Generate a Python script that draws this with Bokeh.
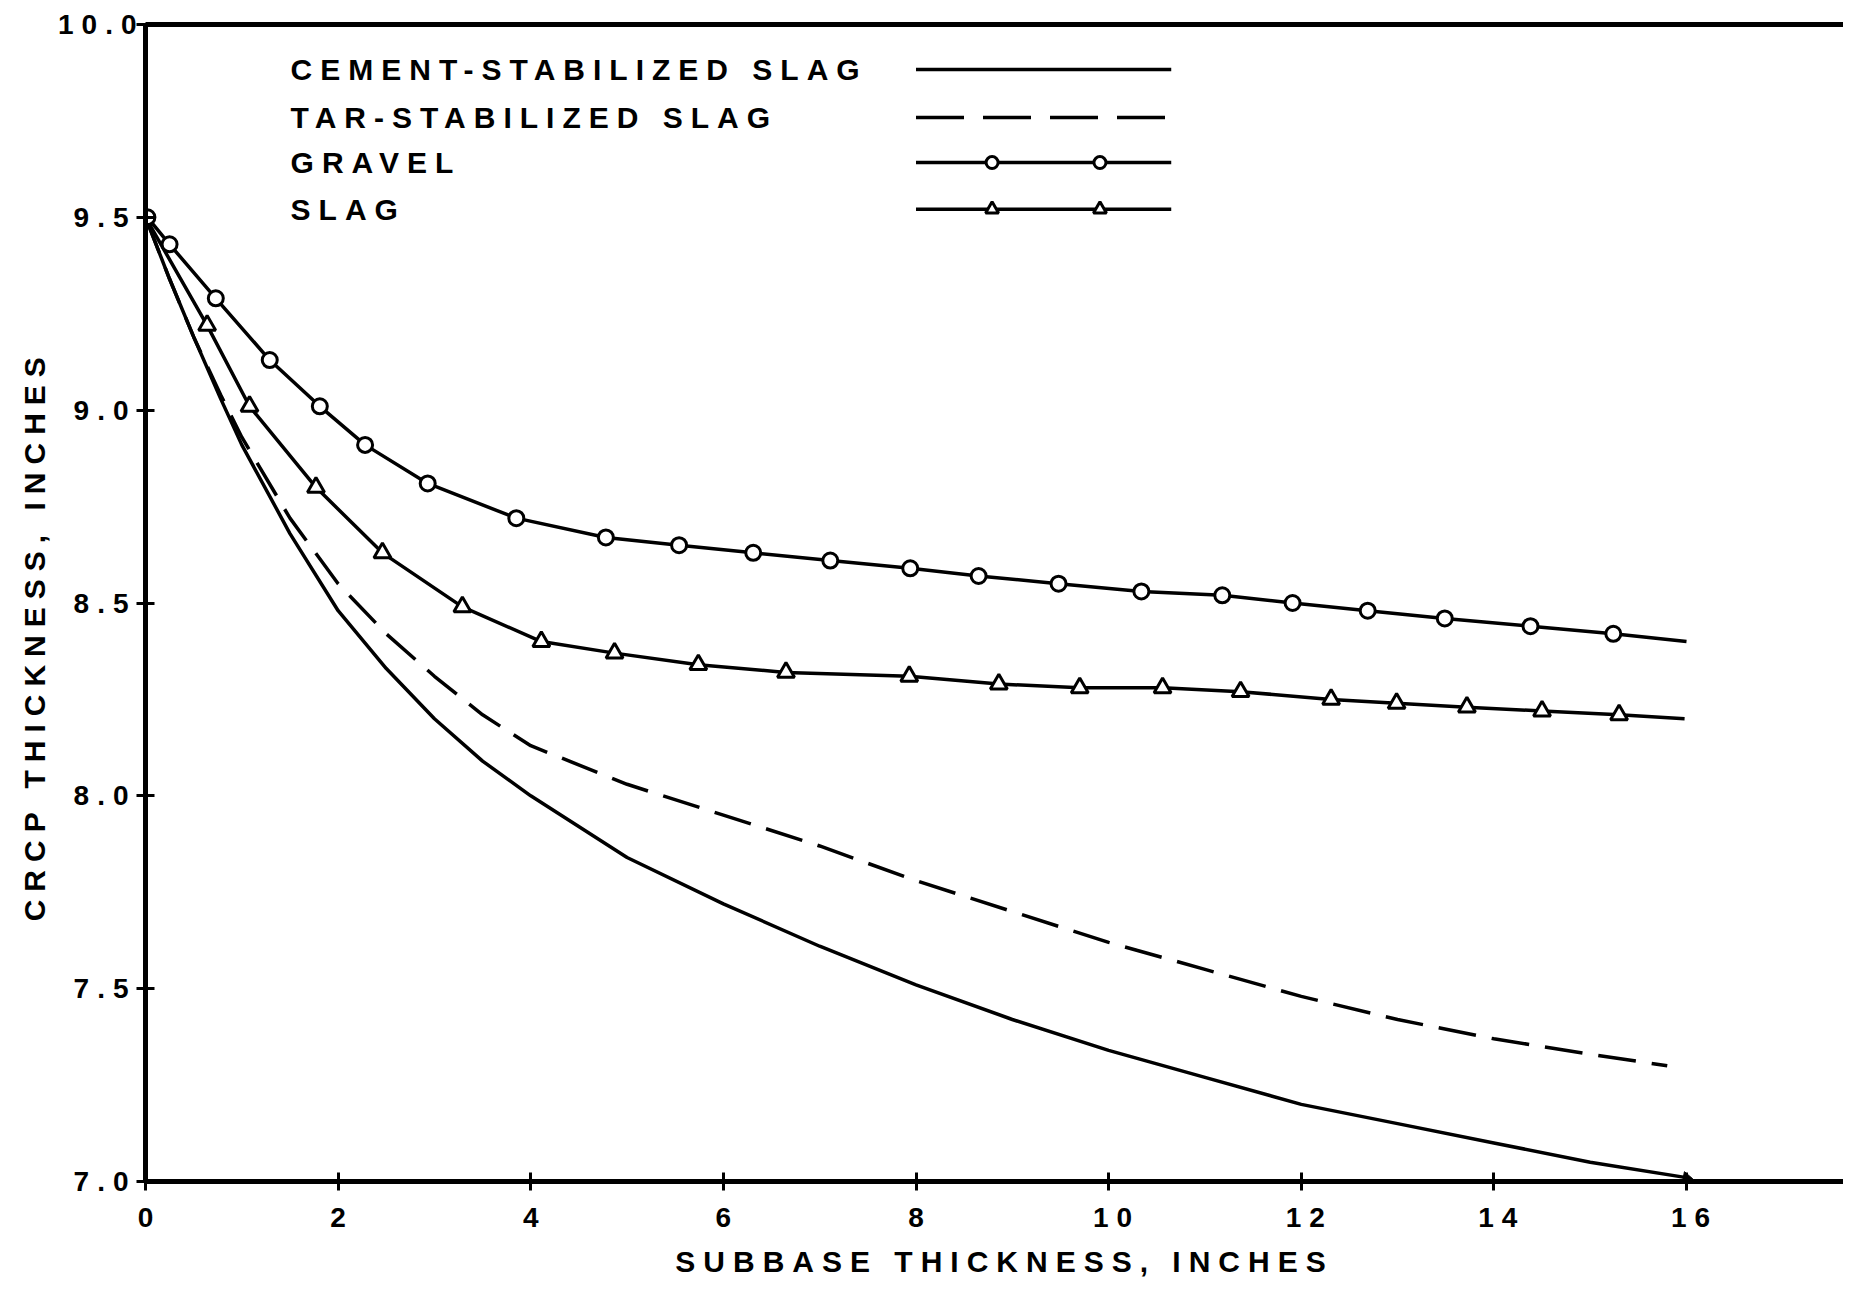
import math
from bokeh.plotting import figure
from bokeh.models import Range1d, FixedTicker, Label, LinearAxis, InlineStyleSheet, NumeralTickFormatter
from bokeh.embed import file_html
from bokeh.resources import INLINE

# ---------------- data ----------------
x_ticks = [0, 2, 4, 6, 8, 10, 12, 14, 16]
y_ticks = [7.0, 7.5, 8.0, 8.5, 9.0, 9.5, 10.0]

cement_x = [0, 0.25, 0.5, 0.78, 1, 1.5, 2, 2.5, 3, 3.5, 4, 5, 6, 7, 8, 9, 10, 11, 12, 13, 14, 15, 16]
cement_y = [9.5, 9.34, 9.19, 9.03, 8.91, 8.68, 8.48, 8.33, 8.20, 8.09, 8.00, 7.84, 7.72, 7.61,
            7.51, 7.42, 7.34, 7.27, 7.20, 7.15, 7.10, 7.05, 7.01]

tar_x = [0, 0.25, 0.5, 0.78, 1, 1.5, 2, 2.5, 3, 3.5, 4, 5, 6, 7, 8, 9, 10, 11, 12, 13, 14, 15, 15.8]
tar_y = [9.5, 9.34, 9.19, 9.04, 8.93, 8.72, 8.55, 8.42, 8.31, 8.21, 8.13, 8.03, 7.95, 7.87,
         7.78, 7.70, 7.62, 7.55, 7.48, 7.42, 7.37, 7.33, 7.30]

gravel_x = [0.02, 0.25, 0.73, 1.29, 1.81, 2.28, 2.93, 3.85, 4.78, 5.54, 6.31, 7.11, 7.94, 8.65,
            9.48, 10.34, 11.18, 11.91, 12.69, 13.49, 14.38, 15.24]
gravel_y = [9.50, 9.43, 9.29, 9.13, 9.01, 8.91, 8.81, 8.72, 8.67, 8.65, 8.63, 8.61, 8.59, 8.57,
            8.55, 8.53, 8.52, 8.50, 8.48, 8.46, 8.44, 8.42]
gravel_end_x = [16.0]
gravel_end_y = [8.40]

slag_start_x = [0.0]
slag_start_y = [9.5]
slag_x = [0.64, 1.08, 1.77, 2.46, 3.29, 4.11, 4.87, 5.74, 6.65, 7.93, 8.86, 9.70, 10.56, 11.37,
          12.31, 12.99, 13.72, 14.50, 15.30]
slag_y = [9.22, 9.01, 8.80, 8.63, 8.49, 8.40, 8.37, 8.34, 8.32, 8.31, 8.29, 8.28, 8.28, 8.27,
          8.25, 8.24, 8.23, 8.22, 8.21]
slag_end_x = [15.98]
slag_end_y = [8.20]

legend_labels = ["CEMENT-STABILIZED SLAG", "TAR-STABILIZED SLAG", "GRAVEL", "SLAG"]
x_title = "SUBBASE THICKNESS, INCHES"
y_title = "CRCP THICKNESS, INCHES"

# ---------------- layout / style ----------------
FONT = "Liberation Sans"
FS_TICK = "28px"
FS_TEXT = "30px"
LW = 3.5
W, H = 1843, 1280
EM = "\u2003"  # trailing em spaces re-centre the letter-spaced axis titles

p = figure(width=W, height=H, x_range=Range1d(0, 17.63), y_range=Range1d(7.0, 10.0),
           output_backend="svg", toolbar_location=None,
           min_border_left=145, min_border_right=0, min_border_top=24, min_border_bottom=98)
p.stylesheets = [InlineStyleSheet(css=":host { letter-spacing: 8px; }")]
p.grid.visible = False
p.outline_line_color = None
p.background_fill_color = "white"
p.border_fill_color = "white"

for ax in (p.xaxis[0], p.yaxis[0]):
    ax.axis_line_width = 5
    ax.axis_line_color = "black"
    ax.major_tick_in = 9
    ax.major_tick_out = 9
    ax.major_tick_line_width = 3
    ax.minor_tick_line_color = None
    ax.major_label_text_font = FONT
    ax.major_label_text_font_style = "bold"
    ax.major_label_text_font_size = FS_TICK
    ax.major_label_text_color = "black"
    ax.axis_label_text_font = FONT
    ax.axis_label_text_font_style = "bold"
    ax.axis_label_text_font_size = FS_TEXT
    ax.axis_label_text_color = "black"

p.xaxis.ticker = FixedTicker(ticks=x_ticks)
p.yaxis.ticker = FixedTicker(ticks=y_ticks)
p.yaxis.formatter = NumeralTickFormatter(format="0.0")
p.xaxis.major_label_standoff = 17
p.yaxis.major_label_standoff = 24
p.xaxis.axis_label = x_title + EM * 6
p.xaxis.axis_label_standoff = 15
p.yaxis.axis_label = y_title + EM * 8
p.yaxis.axis_label_standoff = 4

top = LinearAxis(ticker=FixedTicker(ticks=[]), axis_line_width=5, major_tick_in=0,
                 major_tick_out=0, minor_tick_line_color=None, major_label_standoff=0)
p.add_layout(top, "above")

# curves
p.line(cement_x, cement_y, line_width=LW, color="black", line_join="round")
p.scatter(cement_x[-1:], cement_y[-1:], marker="triangle", size=11, angle=-1.76,
          color="black")
p.line(tar_x, tar_y, line_width=LW, color="black", line_dash="38 16")
p.line(gravel_x + gravel_end_x, gravel_y + gravel_end_y, line_width=LW, color="black",
       line_join="round")
p.line(slag_start_x + slag_x + slag_end_x, slag_start_y + slag_y + slag_end_y,
       line_width=LW, color="black", line_join="round")
p.scatter(gravel_x, gravel_y, marker="circle", size=15, line_width=3, line_color="black",
          fill_color="white")
p.scatter(slag_x, slag_y, marker="triangle", size=17, line_width=3, line_color="black",
          fill_color="white")

# legend (drawn by hand: label on the left, sample on the right)
leg_row_y = [9.883, 9.759, 9.642, 9.521]
leg_line_x = [8.0, 10.65]
leg_mark_x = [8.79, 9.91]
leg_text_x = 1.506
p.line(leg_line_x, [leg_row_y[0]] * 2, line_width=LW, color="black")
p.line(leg_line_x, [leg_row_y[1]] * 2, line_width=LW, color="black", line_dash="48 19")
p.line(leg_line_x, [leg_row_y[2]] * 2, line_width=LW, color="black")
p.line(leg_line_x, [leg_row_y[3]] * 2, line_width=LW, color="black")
p.scatter(leg_mark_x, [leg_row_y[2]] * 2, marker="circle", size=12, line_width=3,
          line_color="black", fill_color="white")
p.scatter(leg_mark_x, [leg_row_y[3]] * 2, marker="triangle", size=13, line_width=3,
          line_color="black", fill_color="white")
for lab, yy in zip(legend_labels, leg_row_y):
    p.add_layout(Label(x=leg_text_x, y=yy, text=lab, text_font=FONT, text_font_style="bold",
                       text_font_size=FS_TEXT, text_color="black",
                       text_baseline="middle", text_align="left"))

open("out.html", "w").write(file_html(p, INLINE))
